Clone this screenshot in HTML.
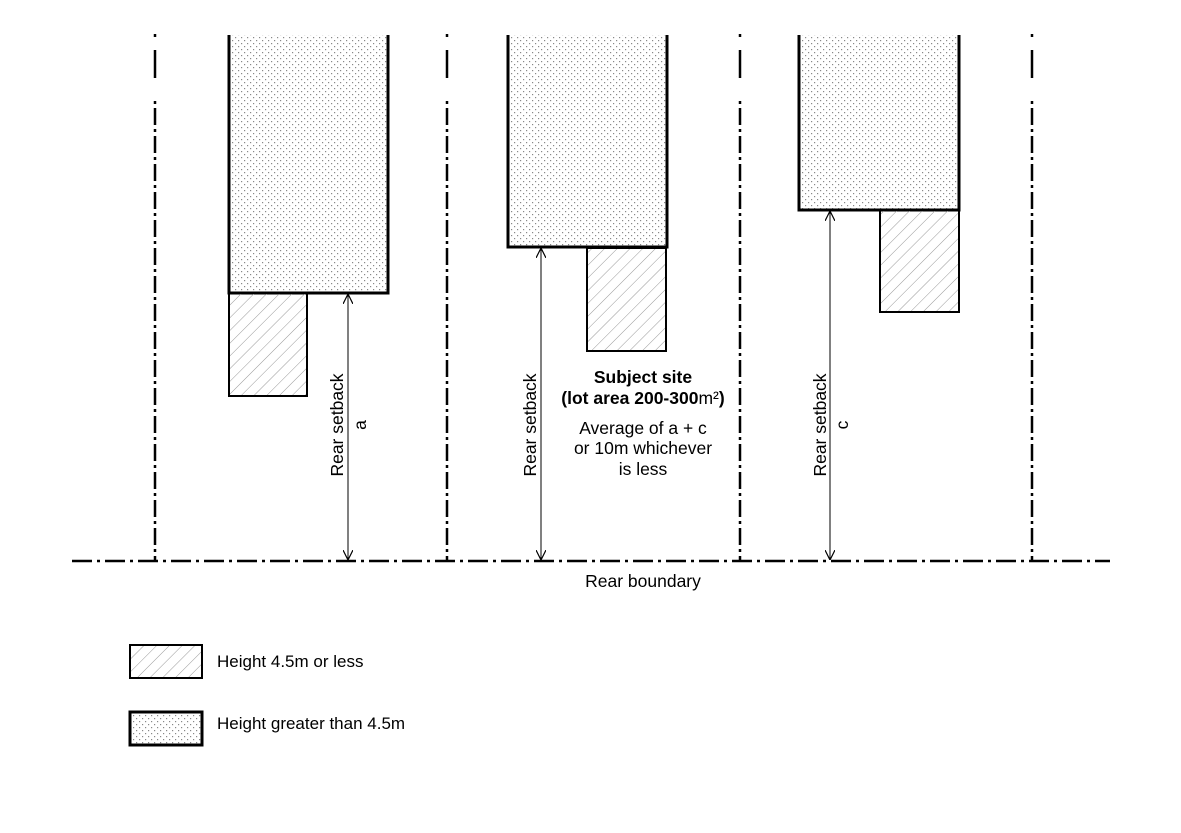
<!DOCTYPE html>
<html><head><meta charset="utf-8"><style>
html,body{margin:0;padding:0;background:#fff;}
svg{display:block;font-family:"Liberation Sans",Arial,sans-serif;}
</style></head><body>
<svg width="1181" height="833" viewBox="0 0 1181 833" xmlns="http://www.w3.org/2000/svg">
<defs>
<pattern id="dots" width="6" height="6" patternUnits="userSpaceOnUse">
<rect x="1" y="1" width="1.2" height="1.2" fill="#888"/>
<rect x="4" y="4" width="1.2" height="1.2" fill="#888"/>
</pattern>
<pattern id="hatch" width="9" height="9" patternUnits="userSpaceOnUse" patternTransform="rotate(45)">
<line x1="0" y1="0" x2="0" y2="9" stroke="#999" stroke-width="1"/>
</pattern>
<marker id="ah" viewBox="0 0 10 10" refX="10" refY="5" markerWidth="10" markerHeight="10" orient="auto-start-reverse" markerUnits="userSpaceOnUse">
<path d="M0,0 L10,5 L0,10" fill="none" stroke="#000" stroke-width="1.2"/>
</marker>
</defs>

<g stroke="#000" stroke-width="2.5">
<g id="v">
<line x1="155" y1="34" x2="155" y2="37"/>
<line x1="155" y1="50" x2="155" y2="78"/>
<line x1="155" y1="101" x2="155" y2="560" stroke-dasharray="3 4 17 4"/>
</g>
<use href="#v" x="292"/>
<use href="#v" x="585"/>
<use href="#v" x="877"/>
</g>

<line x1="72" y1="561" x2="1110" y2="561" stroke="#000" stroke-width="2.5" stroke-dasharray="20 5 3 5"/>

<rect x="229" y="35" width="159" height="258" fill="url(#dots)"/>
<path d="M229,35 V293 H388 V35" fill="none" stroke="#000" stroke-width="3"/>
<rect x="229" y="293" width="78" height="103" fill="url(#hatch)" stroke="#000" stroke-width="2"/>
<line x1="348" y1="294" x2="348" y2="560" stroke="#000" stroke-width="1" marker-start="url(#ah)" marker-end="url(#ah)"/>

<rect x="508" y="35" width="159" height="212" fill="url(#dots)"/>
<path d="M508,35 V247 H667 V35" fill="none" stroke="#000" stroke-width="3"/>
<rect x="587" y="248" width="79" height="103" fill="url(#hatch)" stroke="#000" stroke-width="2"/>
<line x1="541" y1="248" x2="541" y2="560" stroke="#000" stroke-width="1" marker-start="url(#ah)" marker-end="url(#ah)"/>

<rect x="799" y="35" width="160" height="175" fill="url(#dots)"/>
<path d="M799,35 V210 H959 V35" fill="none" stroke="#000" stroke-width="3"/>
<rect x="880" y="210" width="79" height="102" fill="url(#hatch)" stroke="#000" stroke-width="2"/>
<line x1="830" y1="211" x2="830" y2="560" stroke="#000" stroke-width="1" marker-start="url(#ah)" marker-end="url(#ah)"/>

<g font-size="17.5" fill="#000" text-anchor="middle">
<text transform="translate(343,425) rotate(-90)">Rear setback</text>
<text transform="translate(366,425) rotate(-90)">a</text>
<text transform="translate(536,425) rotate(-90)">Rear setback</text>
<text transform="translate(826,425) rotate(-90)">Rear setback</text>
<text transform="translate(848,425) rotate(-90)">c</text>

<text x="643" y="383" font-weight="bold">Subject site</text>
<text x="643" y="404"><tspan font-weight="bold">(lot area 200-300</tspan>m²<tspan font-weight="bold">)</tspan></text>
<text x="643" y="434">Average of a + c</text>
<text x="643" y="454">or 10m whichever</text>
<text x="643" y="475">is less</text>
<text x="643" y="587">Rear boundary</text>
</g>

<rect x="130" y="645" width="72" height="33" fill="url(#hatch)" stroke="#000" stroke-width="2"/>
<text x="217" y="667" font-size="17">Height 4.5m or less</text>
<rect x="130" y="712" width="72" height="33" fill="url(#dots)" stroke="#000" stroke-width="3"/>
<text x="217" y="729" font-size="17">Height greater than 4.5m</text>
</svg>
</body></html>
